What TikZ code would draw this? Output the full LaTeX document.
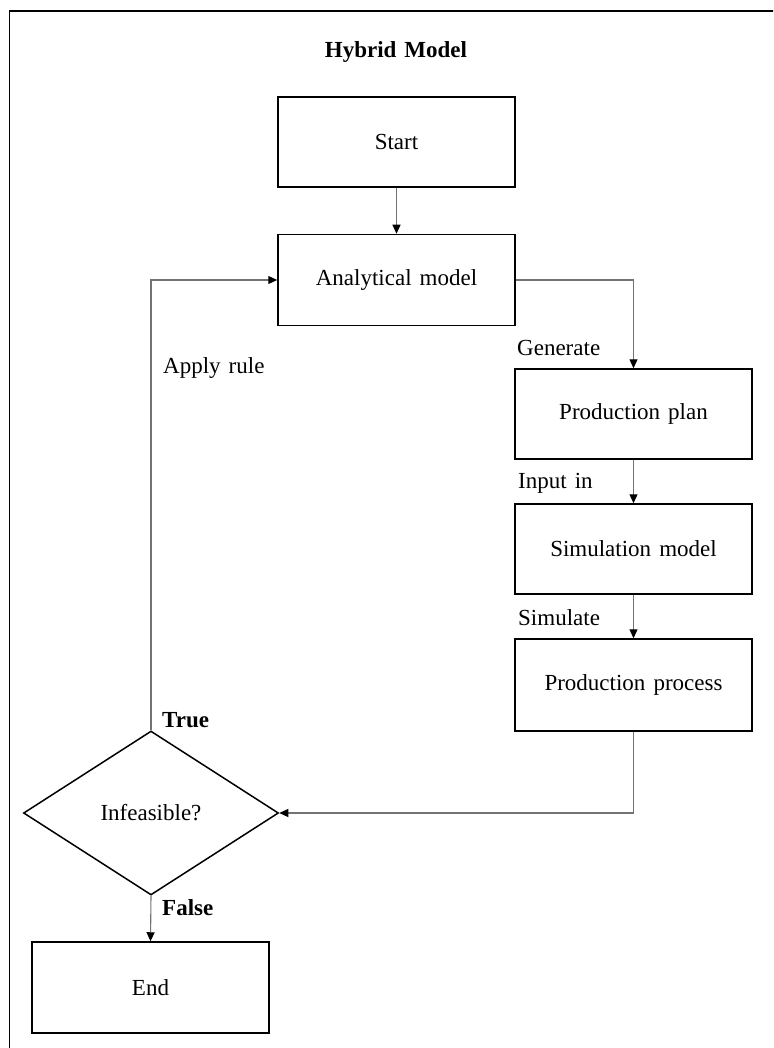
\documentclass[tikz,border=0pt]{standalone}
\usepackage{fontspec}
\setmainfont[WordSpace={1.4,1,1}]{Liberation Serif}
\usetikzlibrary{arrows.meta,shapes.geometric}
\begin{document}
\begin{tikzpicture}[x=1pt,y=-1pt,
  every node/.style={font=\fontsize{23}{27}\selectfont},
  box/.style={draw=black,line width=1.5pt,minimum width=237pt,minimum height=90pt,inner sep=0pt},
  decision/.style={diamond,draw=black,line width=1.5pt,minimum width=255pt,minimum height=164pt,inner sep=0pt},
  conn/.style={draw=black!55,line width=1.1pt,-{Triangle[length=9pt,width=8pt,color=black]}},
  lbl/.style={anchor=west,inner sep=0pt},
  blbl/.style={anchor=west,inner sep=0pt,font=\fontsize{23}{27}\selectfont\bfseries}]
\useasboundingbox (0,0) rectangle (773,1048);
\clip (0,0) rectangle (773,1048);
\draw[line width=1.7pt] (9.5,11) rectangle (820,1100);
\node[font=\fontsize{23}{27}\selectfont\bfseries] (title) at (396,52) {Hybrid Model};
\node[box] (start) at (396.5,142) {Start};
\node[box,minimum height=91pt] (ana) at (396.5,280) {Analytical model};
\node[box] (plan) at (633.5,414) {Production plan};
\node[box] (sim) at (633.5,549) {Simulation model};
\node[box,minimum height=92pt] (proc) at (633.5,685) {Production process};
\node[decision] (dec) at (151,813) {Infeasible?};
\node[box,minimum height=91pt] (end) at (150.5,987.5) {End};
\node[lbl] (gen) at (517,348) {Generate};
\node[lbl] (inp) at (518,483) {Input in};
\node[lbl] (simu) at (518,618) {Simulate};
\node[lbl] (apply) at (163,368) {Apply rule};
\node[blbl] (true) at (162,720) {True};
\node[blbl] (false) at (162,908) {False};
\draw[conn] (start) -- (ana);
\draw[conn] (ana.east) -| (plan.north);
\draw[conn] (plan) -- (sim);
\draw[conn] (sim) -- (proc);
\draw[conn] (proc.south) |- (dec.east);
\draw[conn] (dec.north) |- (ana.west);
\draw[conn] (dec.south) -- (end.north);
\end{tikzpicture}
\end{document}
